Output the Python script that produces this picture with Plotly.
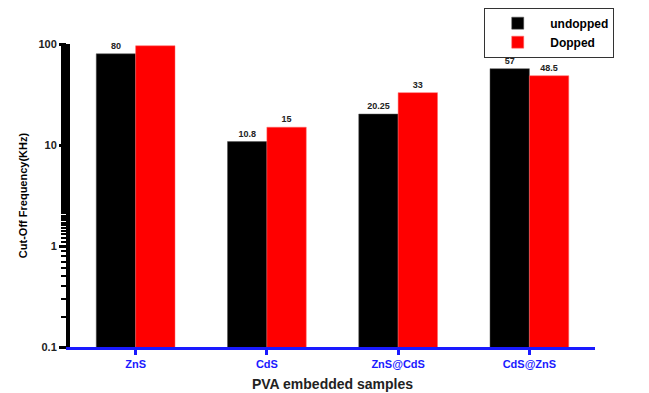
import plotly.graph_objects as go

categories = ["ZnS", "CdS", "ZnS@CdS", "CdS@ZnS"]
undopped = [80, 10.8, 20.25, 57]
dopped = [96, 15, 33, 48.5]
undopped_labels = ["80", "10.8", "20.25", "57"]
dopped_labels = ["", "15", "33", "48.5"]
ytick_vals = [0.1, 1, 10, 100]
ytick_text = ["0.1", "1", "10", "100"]

FONT = "Liberation Sans, Arial, sans-serif"

fig = go.Figure()
fig.add_trace(go.Bar(
    x=categories, y=undopped, name="undopped",
    marker=dict(color="black", line=dict(color="#555555", width=0.5)),
    text=undopped_labels, textposition="outside", cliponaxis=False,
    textfont=dict(family=FONT, size=9, color="#222222", weight="bold"),
))
fig.add_trace(go.Bar(
    x=categories, y=dopped, name="Dopped",
    marker=dict(color="#ff0000", line=dict(color="#ff6666", width=0.5)),
    text=dopped_labels, textposition="outside", cliponaxis=False,
    textfont=dict(family=FONT, size=9, color="#222222", weight="bold"),
))

# page body has an 8px default margin, so the figure is sized to fit the window
fig.update_layout(
    width=641, height=385,
    margin=dict(l=62, r=54, t=36, b=46, autoexpand=False),
    paper_bgcolor="white", plot_bgcolor="white",
    barmode="group", bargap=0.4, bargroupgap=0,
    font=dict(family=FONT),
    showlegend=True,
    legend=dict(
        x=0.789, y=1.12, xanchor="left", yanchor="top",
        bordercolor="#333333", borderwidth=1, bgcolor="white",
        font=dict(family=FONT, size=12, color="black", weight="bold"),
        itemwidth=55, tracegroupgap=0,
    ),
    xaxis=dict(
        showline=True, linecolor="#1a1aff", linewidth=3,
        ticks="outside", tickcolor="#1a1aff", ticklen=5, tickwidth=3,
        tickfont=dict(family=FONT, size=11, color="#1a1aff", weight="bold"),
        title=dict(text="PVA embedded samples", standoff=10,
                   font=dict(family=FONT, size=14, color="#222222", weight="bold")),
        showgrid=False, zeroline=False, automargin=False,
    ),
    yaxis=dict(
        type="log", range=[-1, 2],
        showline=True, linecolor="black", linewidth=4,
        ticks="outside", tickcolor="black", ticklen=7, tickwidth=3,
        tickvals=ytick_vals, ticktext=ytick_text,
        tickfont=dict(family=FONT, size=11, color="#222222", weight="bold"),
        minor=dict(ticks="outside", ticklen=5, tickwidth=2, tickcolor="black",
                   showgrid=False),
        title=dict(text="Cut-Off Frequency(KHz)", standoff=10,
                   font=dict(family=FONT, size=11, color="black", weight="bold")),
        showgrid=False, zeroline=False, automargin=False,
    ),
)

fig.write_html("out.html")
